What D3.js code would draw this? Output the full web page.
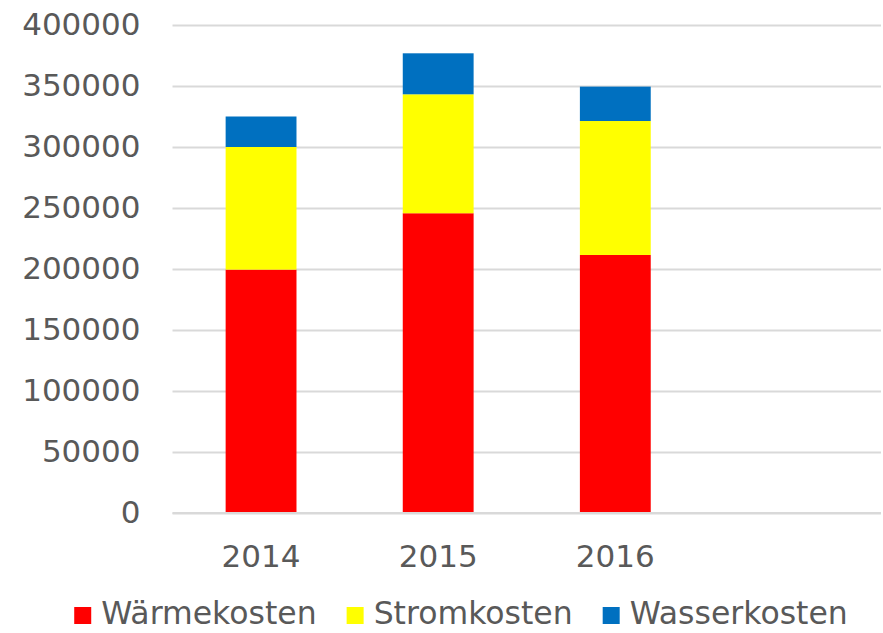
<!DOCTYPE html>
<html><head><meta charset="utf-8">
<script src="https://cdn.jsdelivr.net/npm/d3@7"></script>
<style>body{margin:0;background:#fff}svg{display:block}text{font-family:"DejaVu Sans",Verdana,sans-serif;fill:#595959}</style>
</head><body><svg id="c" width="883" height="633"></svg>
<script>
const categories = ["2014", "2015", "2016", ""];
const waerme = [199500, 245700, 211500, null];
const strom  = [100500, 97500, 109800, null];
const wasser = [25000, 33600, 28200, null];
const seriesNames = ["Wärmekosten", "Stromkosten", "Wasserkosten"];
const seriesColors = ["#FF0000", "#FFFF00", "#0070C0"];
const yTicks = [0, 50000, 100000, 150000, 200000, 250000, 300000, 350000, 400000];

const svg = d3.select("#c");
const m = {l: 172.5, r: 2, t: 25, b: 120};
const W = 883, H = 633;
const x = d3.scaleBand().domain(categories.map((c,i)=>i)).range([m.l, W - m.r]).paddingInner(0.6).paddingOuter(0.3);
const y = d3.scaleLinear().domain([0, 400000]).range([513, 25]);

// grid
const yAxis = d3.axisLeft(y).tickValues(yTicks).tickSize(-(W - m.r - m.l)).tickFormat(d3.format("d"));
const ga = svg.append("g").attr("transform", `translate(${m.l},0)`).call(yAxis);
ga.select(".domain").remove();
ga.selectAll(".tick line").attr("stroke", "#d9d9d9").attr("stroke-width", 2);
ga.selectAll(".tick text").attr("x", -32).attr("font-size", 31).attr("fill", "#595959");

const rows = categories.map((c, i) => ({i, w: waerme[i] || 0, s: strom[i] || 0, a: wasser[i] || 0}));
const stack = d3.stack().keys(["w", "s", "a"])(rows);
stack.forEach((layer, k) => {
  svg.append("g").selectAll("rect").data(layer.filter(d => d.data.w)).join("rect")
    .attr("x", d => x(d.data.i)).attr("width", x.bandwidth())
    .attr("y", d => y(d[1])).attr("height", d => y(d[0]) - y(d[1]))
    .attr("fill", seriesColors[k]);
});

// x axis line
svg.append("line").attr("x1", m.l).attr("x2", W - m.r).attr("y1", y(0)).attr("y2", y(0)).attr("stroke", "#d9d9d9").attr("stroke-width", 2);
const xa = d3.axisBottom(x).tickSize(0).tickFormat(i => categories[i]);
const gx = svg.append("g").attr("transform", `translate(0,${y(0)})`).call(xa);
gx.select(".domain").remove();
gx.selectAll("text").attr("font-size", 31).attr("fill", "#595959").attr("dy", 0).attr("y", 54);

// legend
const lg = svg.append("g");
let cx = 0;
const items = seriesNames.map((n, k) => {
  const g = lg.append("g");
  g.append("rect").attr("x", 0).attr("y", -17).attr("width", 17).attr("height", 17).attr("fill", seriesColors[k]);
  const t = g.append("text").attr("x", 27).attr("y", 0).attr("font-size", 31.5).text(n);
  const w = 27 + t.node().getComputedTextLength();
  g.attr("transform", `translate(${cx},624)`);
  cx += w + 30;
  return g;
});
const total = cx - 30;
lg.attr("transform", `translate(${461 - total/2},0)`);
</script></body></html>
